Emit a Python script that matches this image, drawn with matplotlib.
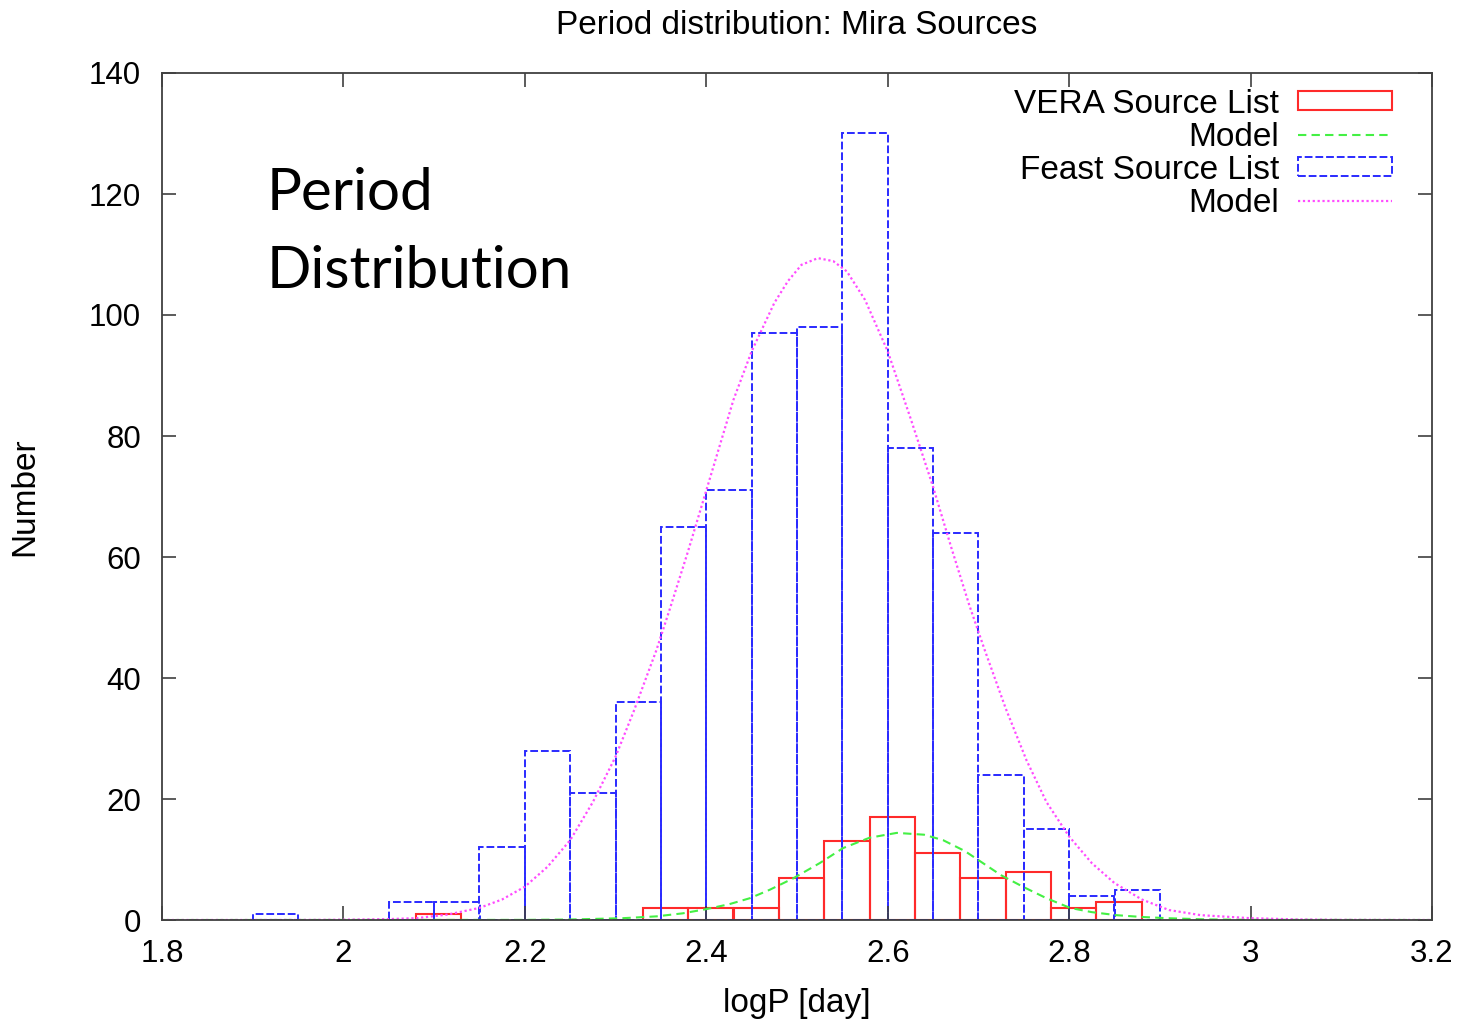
import matplotlib
matplotlib.use('Agg')
import numpy as np
from matplotlib import pyplot as plt
from matplotlib.patches import Rectangle
from matplotlib.lines import Line2D
from matplotlib.ticker import FuncFormatter, MultipleLocator

plt.rcParams['font.family'] = ['Liberation Sans', 'DejaVu Sans']

# histogram data (left bin edge, count), bin width 0.05
vera_left = [2.08, 2.33, 2.38, 2.43, 2.48, 2.53, 2.58, 2.63, 2.68, 2.73, 2.78, 2.83]
vera_count = [1, 2, 2, 2, 7, 13, 17, 11, 7, 8, 2, 3]

feast_left = [1.90, 2.05, 2.10, 2.15, 2.20, 2.25, 2.30, 2.35, 2.40, 2.45,
              2.50, 2.55, 2.60, 2.65, 2.70, 2.75, 2.80, 2.85]
feast_count = [1, 3, 3, 12, 28, 21, 36, 65, 71, 97, 98, 130, 78, 64, 24, 15, 4, 5]
bin_w = 0.05

# model curves
vera_model_x = [1.80, 2.20, 2.25, 2.308, 2.345, 2.374, 2.40, 2.425, 2.448, 2.47, 2.496,
                2.525, 2.551, 2.58, 2.61, 2.64, 2.661, 2.685, 2.705, 2.725, 2.749,
                2.775, 2.801, 2.825, 2.852, 2.88, 2.908, 2.95, 3.00, 3.20]
vera_model_y = [0, 0.02, 0.08, 0.3, 0.6, 1.1, 1.8, 2.6, 3.6, 5.0, 6.9,
                9.4, 11.9, 13.6, 14.4, 14.1, 13.2, 11.4, 9.4, 7.4, 5.5,
                3.6, 2.0, 1.3, 0.8, 0.5, 0.3, 0.1, 0.03, 0]

feast_model_x = [1.80, 1.95, 2.00, 2.05, 2.08, 2.115, 2.15, 2.175, 2.20, 2.225, 2.25,
                 2.275, 2.30, 2.32, 2.345, 2.36, 2.38, 2.40, 2.415, 2.43, 2.45, 2.475,
                 2.49, 2.505, 2.523, 2.54, 2.555, 2.575, 2.60, 2.625, 2.65, 2.67,
                 2.69, 2.707, 2.73, 2.753, 2.775, 2.80, 2.825, 2.85, 2.88, 2.91,
                 2.945, 3.00, 3.05, 3.10, 3.20]
feast_model_y = [0, 0.01, 0.05, 0.15, 0.3, 0.9, 2.0, 3.4, 5.5, 8.8, 13.2,
                 19.5, 27, 34.5, 44.6, 51.5, 61, 71, 78.5, 86, 94, 102,
                 105.6, 108.3, 109.4, 108.9, 107.2, 102.5, 94, 83, 71.6, 61.6,
                 52, 44.6, 35, 26.4, 19.5, 13.8, 9.4, 6.1, 3.4, 1.65,
                 0.8, 0.3, 0.1, 0.03, 0]

red = '#ff2a2a'
green = '#44f044'
blue = '#2a2aff'
pink = '#ff4cff'

fig = plt.figure(figsize=(14.64, 10.21), dpi=100)
ax = fig.add_axes([162 / 1464, 1 - 920 / 1021, 1270 / 1464, 847 / 1021])

ax.bar(vera_left, vera_count, width=bin_w, align='edge', fill=False,
       edgecolor=red, linewidth=1.5)
ax.plot(vera_model_x, vera_model_y, color=green, linewidth=1.5,
        linestyle=(0, (4, 2.5)))
ax.bar(feast_left, feast_count, width=bin_w, align='edge', fill=False,
       edgecolor=blue, linewidth=1.4, linestyle=(0, (4, 1.5)))
ax.plot(feast_model_x, feast_model_y, color=pink, linewidth=1.6,
        linestyle=(0, (1, 1.2)))

ax.set_xlim(1.8, 3.2)
ax.set_ylim(0, 140)
ax.xaxis.set_major_locator(MultipleLocator(0.2))
ax.yaxis.set_major_locator(MultipleLocator(20))
ax.xaxis.set_major_formatter(FuncFormatter(lambda v, p: '%g' % round(v, 2)))
ax.tick_params(direction='in', length=10, width=1.2, color='#404040',
               top=True, right=True, labelsize=22.5)
ax.tick_params(axis='x', pad=14)
ax.tick_params(axis='y', pad=15)
for s in ax.spines.values():
    s.set_color('#404040')
    s.set_linewidth(1.3)

ax.set_title('Period distribution: Mira Sources', fontsize=24, pad=28)
ax.set_xlabel('logP [day]', fontsize=24, va='center')
ax.xaxis.set_label_coords(0.5, -0.098)
ax.set_ylabel('Number', fontsize=24, va='center')
ax.yaxis.set_label_coords(-0.108, 0.5)

ax.text(0.0827, 0.838, 'Period', transform=ax.transAxes, fontsize=42,
        family='Lato', va='baseline')
ax.text(0.0827, 0.746, 'Distribution', transform=ax.transAxes, fontsize=42,
        family='Lato', va='baseline')

handles = [
    Rectangle((0, 0), 1, 1, fill=False, edgecolor=red, linewidth=1.5),
    Line2D([], [], color=green, linewidth=1.5, linestyle=(0, (4, 2.5))),
    Rectangle((0, 0), 1, 1, fill=False, edgecolor=blue, linewidth=1.4,
              linestyle=(0, (4, 1.5))),
    Line2D([], [], color=pink, linewidth=1.6, linestyle=(0, (1, 1.2))),
]
labels = ['VERA Source List', 'Model', 'Feast Source List', 'Model']
ax.legend(handles, labels, loc='upper right', bbox_to_anchor=(0.9685, 0.9816),
          frameon=False, markerfirst=False, fontsize=24, borderpad=0,
          borderaxespad=0, handlelength=2.82, handleheight=0.5,
          handletextpad=0.57, labelspacing=0.06)

fig.savefig('out.png', dpi=100)
